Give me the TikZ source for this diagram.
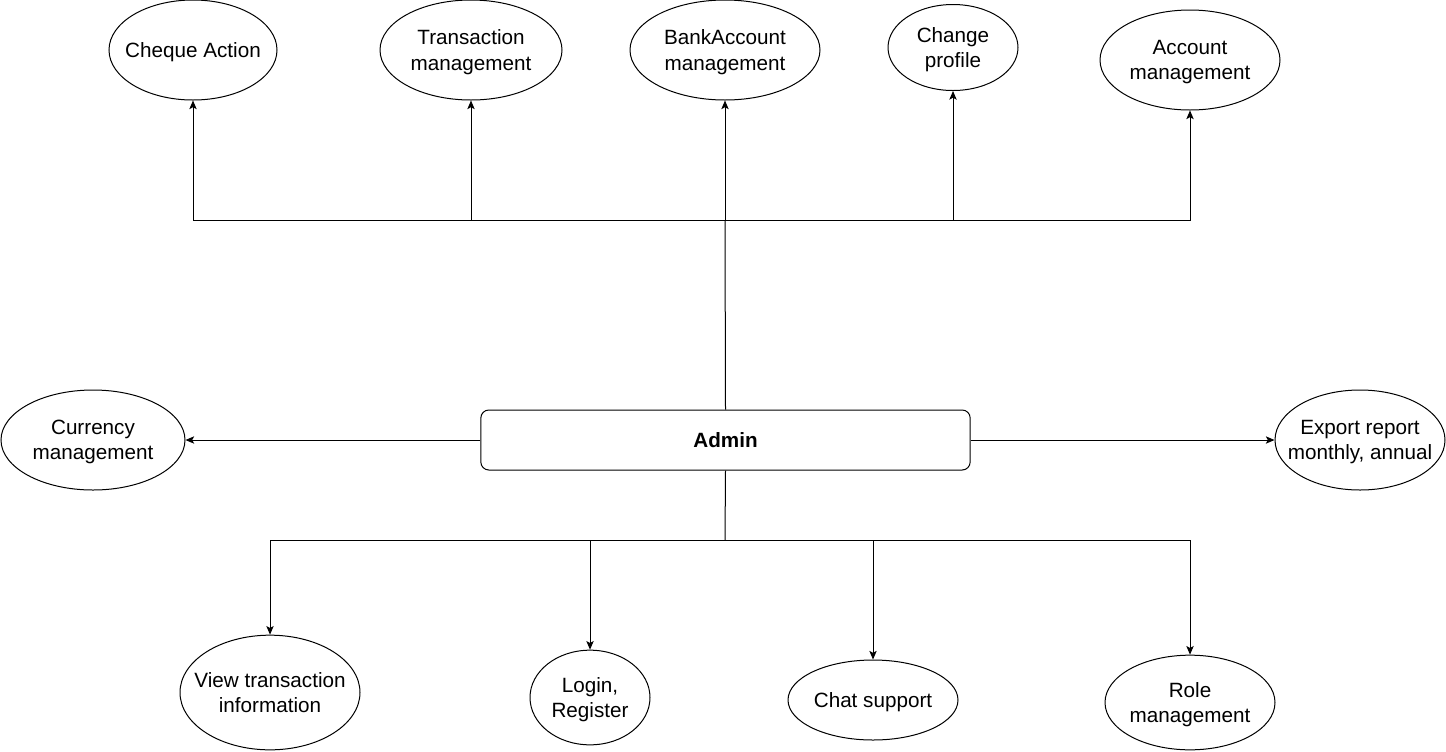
\documentclass[tikz,border=0pt]{standalone}
\usepackage{fontspec}
\setmainfont{Liberation Sans}
\usetikzlibrary{shapes.geometric,arrows.meta}

\begin{document}
\begin{tikzpicture}[x=0.75pt,y=-0.75pt,line width=0.75pt,
  every node/.style={font=\fontsize{15.5}{19}\selectfont},
  uc/.style 2 args={draw,ellipse,inner sep=-20pt,text depth=0pt,align=center,minimum width=#1,minimum height=#2},
  arr/.style={-{Stealth[length=6.5pt,width=5.5pt,inset=1.5pt]}}]
  \useasboundingbox (0,0) rectangle (1446,751);
  \node[draw,rounded corners=6pt,minimum width=367pt,minimum height=45pt,
    font=\fontsize{15.5}{19}\selectfont\bfseries] (admin) at (725.5,440) {Admin};
  % top row
  \node[uc={126pt}{75pt}] (cheque) at (193,50) {Cheque Action};
  \node[uc={136.5pt}{75pt}] (trans) at (471,50) {Transaction\\management};
  \node[uc={142.5pt}{75pt}] (bank) at (725,50) {BankAccount\\management};
  \node[uc={97.5pt}{64.5pt}] (profile) at (953,47.5) {Change\\profile};
  \node[uc={135pt}{75pt}] (account) at (1190,60) {Account\\management};
  % sides
  \node[uc={138pt}{75pt}] (currency) at (93,440) {Currency\\management};
  \node[uc={127.5pt}{75pt}] (export) at (1360,440) {Export report\\monthly, annual};
  % bottom row
  \node[uc={135pt}{86pt}] (view) at (270,692.5) {View transaction\\information};
  \node[uc={90pt}{71pt}] (login) at (590,697.5) {Login,\\Register};
  \node[uc={127.5pt}{60pt}] (chat) at (873,700) {Chat support};
  \node[uc={127.5pt}{71pt}] (role) at (1190,702.5) {Role\\management};

  \coordinate (up) at (725,220);
  \coordinate (down) at (725,540);
  \draw (admin.north) -- (up);
  \draw[arr] (up) -| (cheque.south);
  \draw[arr] (up) -| (trans.south);
  \draw[arr] (up) -- (bank.south);
  \draw[arr] (up) -| (profile.south);
  \draw[arr] (up) -| (account.south);
  \draw[arr] (admin.west) -- (currency.east);
  \draw[arr] (admin.east) -- (export.west);
  \draw (admin.south) -- (down);
  \draw[arr] (down) -| (view.north);
  \draw[arr] (down) -| (login.north);
  \draw[arr] (down) -| (chat.north);
  \draw[arr] (down) -| (role.north);
\end{tikzpicture}
\end{document}
